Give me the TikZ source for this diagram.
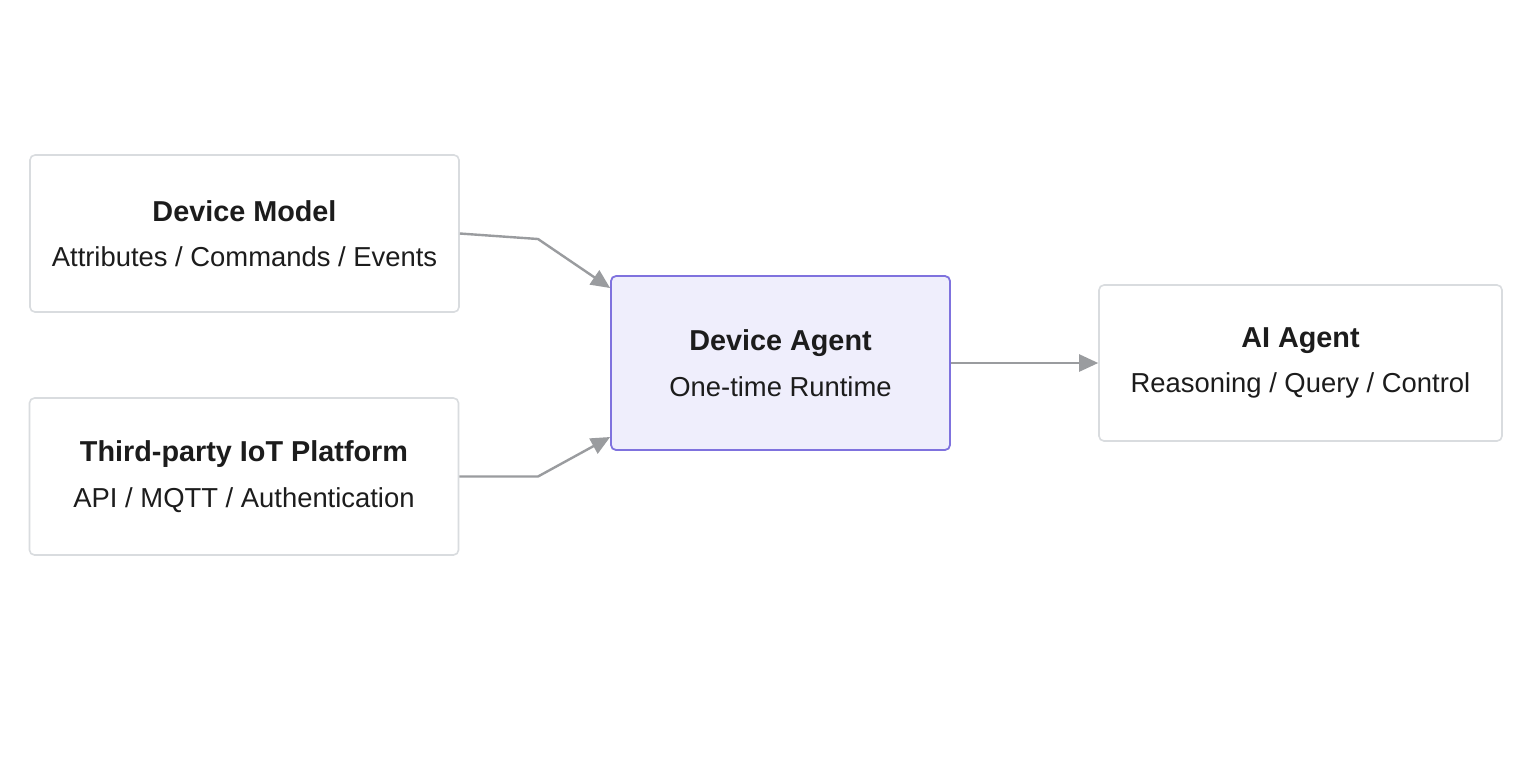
\documentclass[tikz,border=0pt]{standalone}
\usepackage{fontspec}
\setmainfont{Liberation Sans}
\usepackage{tikz}
\usetikzlibrary{arrows.meta}
\definecolor{boxline}{HTML}{D9DCDF}
\definecolor{wireline}{HTML}{9A9C9F}
\definecolor{agentfill}{HTML}{EFEEFC}
\definecolor{agentline}{HTML}{7F72DE}
\definecolor{inktext}{HTML}{1C1C1C}
\tikzset{
  block/.style = {rectangle, rounded corners=2.5pt, align=center, text=inktext, font=\fontsize{13.7}{16}\selectfont, inner sep=0pt},
  srcbox/.style = {block, draw=boxline, line width=0.8pt, fill=white, minimum width=214.5pt, minimum height=78.5pt},
  agentbox/.style = {block, draw=agentline, line width=0.9pt, fill=agentfill, minimum width=169.5pt, minimum height=87pt},
  sinkbox/.style = {block, draw=boxline, line width=0.8pt, fill=white, minimum width=201.5pt, minimum height=78pt},
  wire/.style = {draw=wireline, line width=1.2pt, -{Triangle[length=9.5pt,width=8.5pt]}},
}
\newcommand{\boxtitle}[1]{{\fontsize{14.4}{16}\selectfont\bfseries #1}\\[6.8pt]}
\begin{document}
\begin{tikzpicture}[x=0.5pt, y=-0.5pt]
\useasboundingbox (0,0) rectangle (1536,768);
\fill[white] (0,0) rectangle (1536,768);

\node [srcbox] (model) at (244.5,233.5) {\boxtitle{Device Model}Attributes / Commands / Events};
\node [srcbox] (platform) at (244,476.5) {\boxtitle{Third-party IoT Platform}API / MQTT / Authentication};
\node [agentbox] (agent) at (780.5,363) {\boxtitle{Device Agent}One-time Runtime};
\node [sinkbox] (ai) at (1300.5,363) {\boxtitle{AI Agent}Reasoning / Query / Control};

\coordinate (kinkA) at (538,239);
\coordinate (kinkB) at (538,476.5);

\draw [wire] (model.east) -- (kinkA) -- ([yshift=37.5pt]agent.west);
\draw [wire] (platform.east) -- (kinkB) -- ([yshift=-37pt]agent.west);
\draw [wire] (agent.east) -- (ai.west);
\end{tikzpicture}
\end{document}
